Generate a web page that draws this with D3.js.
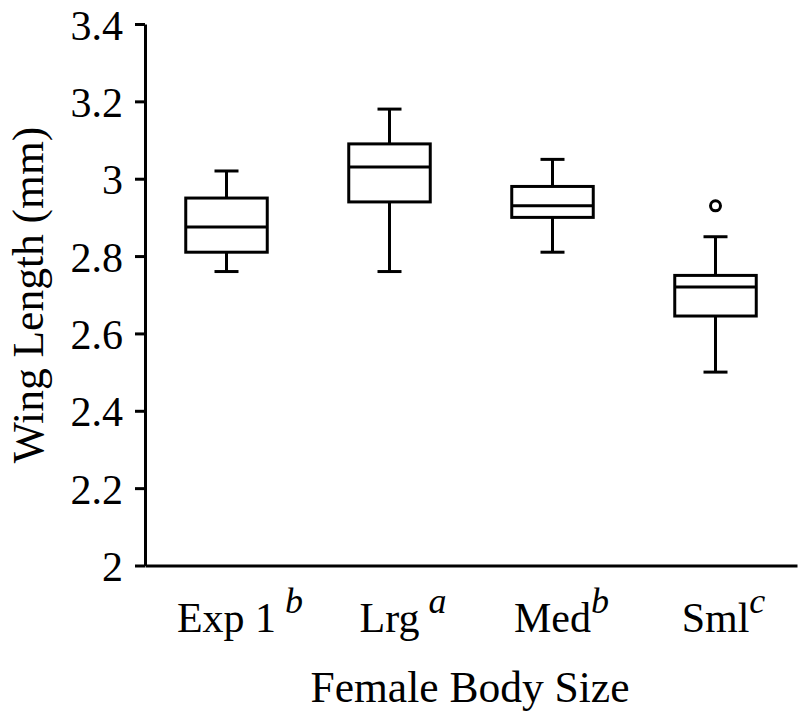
<!DOCTYPE html>
<html>
<head>
<meta charset="utf-8">
<script src="https://cdn.jsdelivr.net/npm/d3@7"></script>
<style>
  html, body { margin: 0; padding: 0; background: #fff; }
  svg { display: block; }
  text { font-family: "Liberation Serif", "Times New Roman", serif; fill: #000; }
</style>
</head>
<body>
<svg id="chart" width="800" height="719"></svg>
<script>
// ---- Data ----
const categories = ["Exp 1", "Lrg", "Med", "Sml"];
const sigLetters = [" b", " a", "b", "c"];
const whiskerLow  = [2.76, 2.76, 2.81, 2.50];
const quartile1   = [2.81, 2.94, 2.90, 2.645];
const medians     = [2.875, 3.03, 2.93, 2.72];
const quartile3   = [2.95, 3.09, 2.98, 2.75];
const whiskerHigh = [3.02, 3.18, 3.05, 2.85];
const outliers    = [[], [], [], [2.93]];
const yTickValues = [2, 2.2, 2.4, 2.6, 2.8, 3, 3.2, 3.4];
const yTickLabels = ["2", "2.2", "2.4", "2.6", "2.8", "3", "3.2", "3.4"];
const xTitle = "Female Body Size";
const yTitle = "Wing Length (mm)";

// ---- Layout ----
const svg = d3.select("#chart");
const plotLeft = 145, plotRight = 797, plotTop = 24, plotBottom = 565.5;
const fontSize = 42;
const titleSize = 43.5;

const x = d3.scaleBand().domain(categories).range([plotLeft, plotRight]).padding(0);
const y = d3.scaleLinear().domain([2, 3.4]).range([plotBottom, plotTop]);

const boxW = x.bandwidth() * 0.5;
const capW = 24;
const sw = 3;

// Y axis
const yAxis = d3.axisLeft(y)
  .tickValues(yTickValues)
  .tickFormat((d, i) => yTickLabels[i])
  .tickSize(10)
  .tickSizeOuter(0)
  .tickPadding(12);
const gy = svg.append("g").attr("transform", `translate(${plotLeft},0)`).call(yAxis);
gy.select(".domain").attr("stroke", "#000").attr("stroke-width", sw);
gy.selectAll(".tick line").attr("stroke", "#000").attr("stroke-width", sw);
gy.selectAll(".tick text")
  .attr("font-family", "Liberation Serif, Times New Roman, serif")
  .attr("font-size", fontSize)
  .attr("fill", "#000")
  .attr("dy", "0.36em");

// X axis (line only)
const xAxis = d3.axisBottom(x).tickSize(0).tickSizeOuter(0).tickFormat("");
const gx = svg.append("g").attr("transform", `translate(0,${plotBottom})`).call(xAxis);
gx.select(".domain").attr("stroke", "#000").attr("stroke-width", sw);

// X tick labels with superscripts
categories.forEach((c, i) => {
  const cx = x(c) + x.bandwidth() / 2;
  const t = svg.append("text")
    .attr("y", 632)
    .attr("font-size", fontSize)
    .style("white-space", "pre");
  const main = t.append("tspan").text(c);
  const len = main.node().getComputedTextLength();
  t.attr("x", cx - len / 2);
  t.append("tspan")
    .attr("dy", -19)
    .attr("font-size", 36)
    .attr("font-style", "italic")
    .text(sigLetters[i]);
});

// Boxes
const g = svg.append("g").attr("fill", "none").attr("stroke", "#000").attr("stroke-width", sw);
categories.forEach((c, i) => {
  const cx = x(c) + x.bandwidth() / 2;
  g.append("line").attr("x1", cx).attr("x2", cx).attr("y1", y(whiskerHigh[i])).attr("y2", y(quartile3[i]));
  g.append("line").attr("x1", cx).attr("x2", cx).attr("y1", y(quartile1[i])).attr("y2", y(whiskerLow[i]));
  g.append("line").attr("x1", cx - capW / 2).attr("x2", cx + capW / 2).attr("y1", y(whiskerHigh[i])).attr("y2", y(whiskerHigh[i]));
  g.append("line").attr("x1", cx - capW / 2).attr("x2", cx + capW / 2).attr("y1", y(whiskerLow[i])).attr("y2", y(whiskerLow[i]));
  g.append("rect")
    .attr("x", cx - boxW / 2).attr("width", boxW)
    .attr("y", y(quartile3[i])).attr("height", y(quartile1[i]) - y(quartile3[i]))
    .attr("fill", "#fff");
  g.append("line").attr("x1", cx - boxW / 2).attr("x2", cx + boxW / 2).attr("y1", y(medians[i])).attr("y2", y(medians[i]));
  outliers[i].forEach(v => {
    g.append("circle").attr("cx", cx).attr("cy", y(v)).attr("r", 5).attr("fill", "#fff");
  });
});

// Titles
svg.append("text")
  .attr("x", 470).attr("y", 702)
  .attr("text-anchor", "middle")
  .attr("font-size", titleSize)
  .text(xTitle);

svg.append("text")
  .attr("transform", "translate(43,295) rotate(-90)")
  .attr("text-anchor", "middle")
  .attr("font-size", titleSize)
  .text(yTitle);
</script>
</body>
</html>
